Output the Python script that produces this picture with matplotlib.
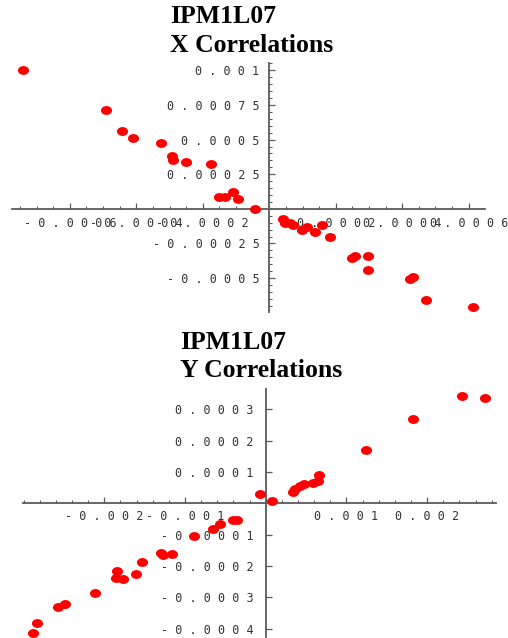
import matplotlib
matplotlib.use("Agg")
import matplotlib.pyplot as plt
from matplotlib.path import Path
from matplotlib.transforms import Affine2D
from matplotlib.ticker import FixedLocator, MultipleLocator

# ---------------- data ----------------
title_top = ["IPM1L07", "X Correlations"]
title_bot = ["IPM1L07", "Y Correlations"]

x_top = [-0.000742, -0.000492, -0.000442, -0.000409, -0.000326, -0.000293, -0.000291,
         -0.000251, -0.000176, -0.000152, -0.000133, -0.000110, -0.000093, -0.000043,
         0.000040, 0.000047, 0.000062, 0.000072, 0.000097, 0.000112, 0.000137, 0.000158,
         0.000183, 0.000248, 0.000258, 0.000298, 0.000298, 0.000423, 0.000433, 0.000473,
         0.000614]
y_top = [0.001002, 0.000712, 0.000562, 0.000512, 0.000476, 0.000379, 0.000355,
         0.000340, 0.000323, 0.000089, 0.000089, 0.000118, 0.000070, 0.000002,
         -0.000072, -0.000104, -0.000099, -0.000114, -0.000152, -0.000133, -0.000170, -0.000114,
         -0.000201, -0.000355, -0.000338, -0.000338, -0.000440, -0.000507, -0.000491, -0.000660,
         -0.000708]

x_bot = [0.002436, 0.002714, 0.001821, 0.001239, 0.000660, 0.000652, 0.000590, 0.000475,
         0.000425, 0.000363, 0.000335, -0.000067, 0.000074, -0.000401, -0.000352, -0.000566,
         -0.000649, -0.000888, -0.001297, -0.001269, -0.001161, -0.001537, -0.001607,
         -0.001846, -0.001859, -0.001772, -0.002119, -0.002487, -0.002570, -0.002838,
         -0.002880]
y_bot = [0.000343, 0.000335, 0.000268, 0.000171, 0.0000905, 0.0000724, 0.000066, 0.0000618,
         0.0000564, 0.0000447, 0.0000351, 0.0000298, 0.0000075, -0.0000532, -0.0000532, -0.000066,
         -0.000083, -0.000106, -0.000158, -0.000166, -0.000162, -0.000188, -0.000226,
         -0.000216, -0.000240, -0.000242, -0.000285, -0.000323, -0.000330, -0.000383,
         -0.000413]

xt_top = [-0.0006, -0.0004, -0.0002, 0.0002, 0.0004, 0.0006]
xt_top_lab = ["-0.0006", "-0.0004", "-0.0002", "0.0002", "0.0004", "0.0006"]
yt_top = [-0.0005, -0.00025, 0.00025, 0.0005, 0.00075, 0.001]
yt_top_lab = ["-0.0005", "-0.00025", "0.00025", "0.0005", "0.00075", "0.001"]

xt_bot = [-0.002, -0.001, 0.001, 0.002]
xt_bot_lab = ["-0.002", "-0.001", "0.001", "0.002"]
yt_bot = [-0.0004, -0.0003, -0.0002, -0.0001, 0.0001, 0.0002, 0.0003]
yt_bot_lab = ["-0.0004", "-0.0003", "-0.0002", "-0.0001", "0.0001", "0.0002", "0.0003"]


def spaced(s):
    return " ".join(list(s))


# ---------------- figure ----------------
W, H = 508, 638
fig = plt.figure(figsize=(W / 100, H / 100), dpi=100)
fig.patch.set_facecolor("white")

ellipse = Path(Affine2D().scale(1.0, 0.8).transform_path(Path.unit_circle()).vertices,
               Path.unit_circle().codes)

AX_COLOR = "#5a5a5a"
TXT_COLOR = "#333333"


def setup(ax, xlim, ylim, xt, xl, yt, yl, xminor, yminor, xpad, ypad):
    ax.set_xlim(*xlim)
    ax.set_ylim(*ylim)
    for s in ["top", "right"]:
        ax.spines[s].set_visible(False)
    ax.spines["left"].set_position(("data", 0))
    ax.spines["bottom"].set_position(("data", 0))
    for s in ["left", "bottom"]:
        ax.spines[s].set_color(AX_COLOR)
        ax.spines[s].set_linewidth(1.3)
    ax.xaxis.set_major_locator(FixedLocator(xt))
    ax.set_xticklabels([spaced(t) for t in xl])
    ax.yaxis.set_major_locator(FixedLocator(yt))
    ax.set_yticklabels([spaced(t) for t in yl])
    if xminor:
        ax.xaxis.set_minor_locator(MultipleLocator(xminor))
    if yminor:
        ax.yaxis.set_minor_locator(MultipleLocator(yminor))
    ax.tick_params(which="major", direction="in", length=4.5, width=0.9, color=AX_COLOR,
                   labelsize=8.5, labelcolor=TXT_COLOR)
    ax.tick_params(which="minor", direction="in", length=2.5, width=0.8, color=AX_COLOR)
    ax.tick_params(axis="x", which="major", pad=xpad)
    ax.tick_params(axis="y", which="major", pad=ypad)
    for lab in ax.get_xticklabels() + ax.get_yticklabels():
        lab.set_fontfamily("DejaVu Sans Mono")
    ax.set_facecolor("none")


# top panel
ax1 = fig.add_axes([12 / W, 1 - 312 / H, 473 / W, 249 / H])
ax1.plot(x_top, y_top, ls="none", marker=ellipse, ms=8, color="#ff0000", mec="none",
         clip_on=False, zorder=3)
setup(ax1, (-0.000774, 0.000649), (-0.000745, 0.001053),
      xt_top, xt_top_lab, yt_top, yt_top_lab, 0.00005, 0.00005, 6, 7)

# bottom panel
ax2 = fig.add_axes([22.7 / W, 1 - 636.7 / H, (496 - 22.7) / W, (636.7 - 389.3) / H])
ax2.plot(x_bot, y_bot, ls="none", marker=ellipse, ms=8, color="#ff0000", mec="none",
         clip_on=False, zorder=3)
setup(ax2, (-0.003011, 0.002854), (-0.000426, 0.000364),
      xt_bot, xt_bot_lab, yt_bot, yt_bot_lab, 0.0002, None, 5, 9)

# titles
tfont = dict(family="Liberation Serif", weight="bold", size=18.5, color="black",
             va="baseline", ha="left")
fig.text(170 / W, 1 - 23 / H, title_top[0], **tfont)
fig.text(170 / W, 1 - 52 / H, title_top[1], **tfont)
fig.text(180 / W, 1 - 349 / H, title_bot[0], **tfont)
fig.text(180 / W, 1 - 377 / H, title_bot[1], **tfont)

fig.savefig("out.png", dpi=100, facecolor="white")
